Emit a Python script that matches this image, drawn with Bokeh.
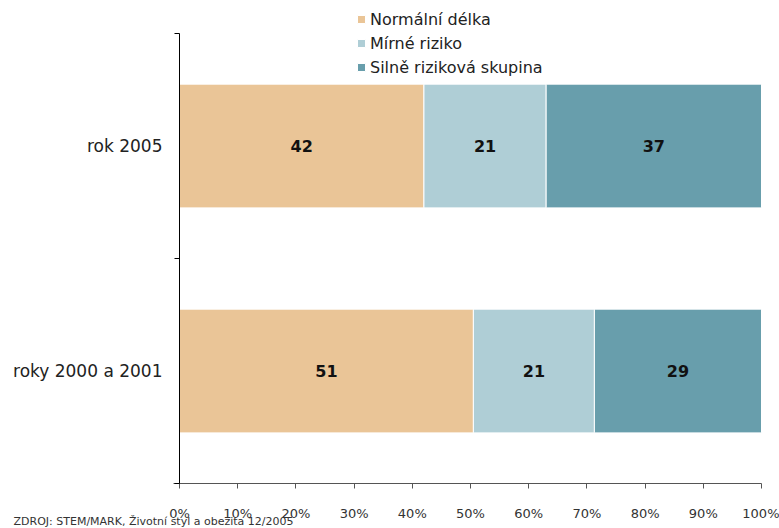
from bokeh.plotting import figure
from bokeh.models import (ColumnDataSource, FixedTicker, Range1d, Legend, LegendItem,
                          LabelSet, Label)
from bokeh.core.properties import value
from bokeh.embed import file_html
from bokeh.resources import INLINE

# Survey groups (bottom to top) and answer categories
groups = ["roky 2000 a 2001", "rok 2005"]
series_names = ["Normální délka", "Mírné riziko", "Silně riziková skupina"]
normal = [51, 42]
mild = [21, 21]
high = [29, 37]
colors = ["#EAC597", "#AFCED6", "#689EAC"]
x_ticks = [0, 10, 20, 30, 40, 50, 60, 70, 80, 90, 100]
source_note = "ZDROJ: STEM/MARK, Životní styl a obezita 12/2005"

FONT = "DejaVu Sans"
W, H = 779, 528

# 100 % stacked shares computed from the stated values
rows = list(zip(normal, mild, high))
totals = [sum(r) for r in rows]
shares = [[v * 100.0 / t for v in r] for r, t in zip(rows, totals)]
ypos = [i + 0.5 for i in range(len(groups))]
n = len(groups)

data = dict(y=ypos)
for k, name in enumerate(series_names):
    data[name] = [s[k] for s in shares]
src = ColumnDataSource(data)

# The plotting area spans the whole canvas; both axes are pinned at zero so
# that the category labels, legend and source note all sit inside it.
left_px, right_px, top_px, bottom_px = 179, 761, 33, 483
ux = (right_px - left_px) / 100.0
uy = (bottom_px - top_px) / float(n)
x_range = Range1d(-left_px / ux, 100 + (W - right_px) / ux)
y_range = Range1d(-(H - bottom_px) / uy, n + top_px / uy)

p = figure(width=W, height=H, output_backend="svg", toolbar_location=None,
           x_range=x_range, y_range=y_range, min_border=0)
p.outline_line_color = None
p.xgrid.visible = False
p.ygrid.visible = False
p.background_fill_color = "white"
p.border_fill_color = "white"

renderers = p.hbar_stack(series_names, y="y", height=0.55, color=colors,
                         line_color="white", line_width=1, source=src)

# Value labels centred on every segment
lab_x, lab_y, lab_t = [], [], []
for i, (r, s) in enumerate(zip(rows, shares)):
    left = 0.0
    for v, w in zip(r, s):
        lab_x.append(left + w / 2.0)
        lab_y.append(ypos[i])
        lab_t.append(str(v))
        left += w
lsrc = ColumnDataSource(dict(x=lab_x, y=lab_y, t=lab_t))
p.add_layout(LabelSet(x="x", y="y", text="t", source=lsrc, text_align="center",
                      text_baseline="middle", text_font=value(FONT),
                      text_font_size="16px", text_font_style="bold",
                      text_color="#111111"))

# X axis: percentages, crossing slightly left of the value axis
xa = p.xaxis[0]
xa.fixed_location = 0
xa.bounds = (-1, 100)
xa.ticker = FixedTicker(ticks=x_ticks)
xa.major_label_overrides = {t: f"{t}%" for t in x_ticks}
xa.axis_line_color = "#555555"
xa.major_tick_line_color = "#555555"
xa.major_tick_out = 5
xa.major_tick_in = 0
xa.minor_tick_line_color = None
xa.major_label_standoff = 17
xa.major_label_text_font = FONT
xa.major_label_text_font_size = "13px"
xa.major_label_text_color = "#333333"

# Y axis: labels at group centres, tick marks at group boundaries
ya = p.yaxis[0]
ya.fixed_location = 0
ya.bounds = (0, n)
ya.ticker = FixedTicker(ticks=ypos, minor_ticks=list(range(n + 1)))
ya.major_label_overrides = {y: g for y, g in zip(ypos, groups)}
ya.axis_line_color = "black"
ya.major_tick_line_color = None
ya.major_tick_out = 0
ya.major_tick_in = 0
ya.minor_tick_line_color = "black"
ya.minor_tick_out = 5
ya.minor_tick_in = 0
ya.major_label_standoff = 12
ya.major_label_text_font = FONT
ya.major_label_text_font_size = "17px"
ya.major_label_text_color = "#222222"

legend = Legend(items=[LegendItem(label=nm, renderers=[r]) for nm, r in zip(series_names, renderers)],
                location=(356, H - 77), orientation="vertical",
                label_text_font=FONT, label_text_font_size="16px",
                label_text_color="#222222", glyph_width=10, glyph_height=10,
                label_height=20, label_standoff=4, spacing=4, padding=0, margin=0,
                border_line_color=None, background_fill_alpha=0)
p.add_layout(legend, "center")

# Source note in the bottom-left corner
p.add_layout(Label(x=13, y=7, x_units="screen", y_units="screen",
                   text=source_note, text_font=FONT, text_font_size="11px",
                   text_color="#333333", text_baseline="middle"))

open("out.html", "w").write(file_html(p, INLINE))
